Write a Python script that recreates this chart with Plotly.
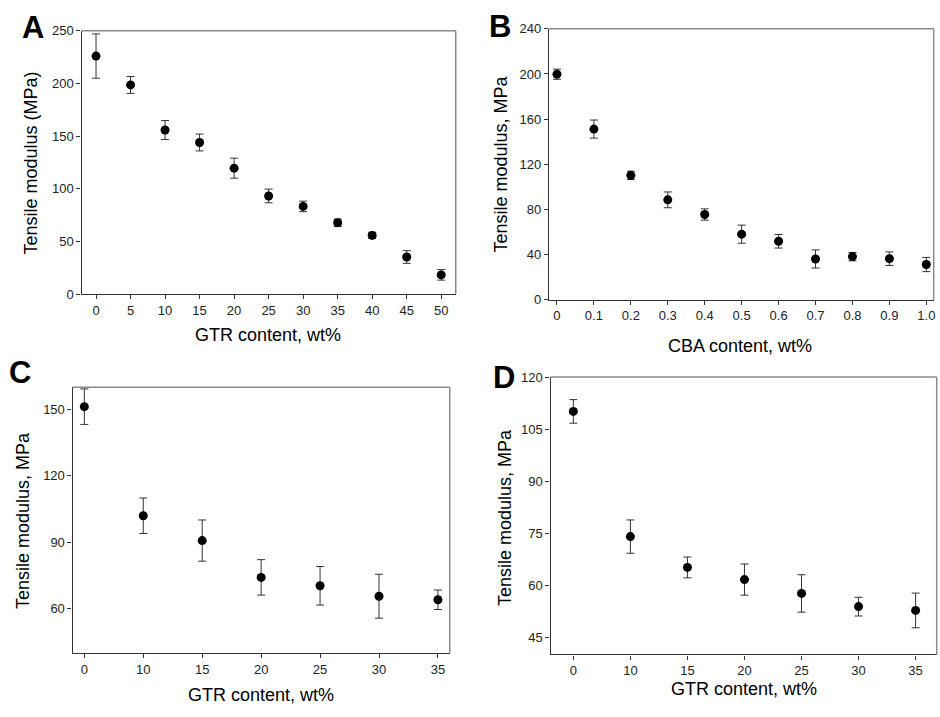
import plotly.graph_objects as go

# Panel A: GTR content vs tensile modulus
a_x = [0, 5, 10, 15, 20, 25, 30, 35, 40, 45, 50]
a_y = [226, 198.6, 155.8, 144, 119.6, 93.2, 83.3, 67.8, 55.8, 35.3, 18.3]
a_err = [21, 8, 9, 8, 9.5, 6.5, 5, 3.5, 3, 6, 5]

# Panel B: CBA content
b_x = [0, 0.1, 0.2, 0.3, 0.4, 0.5, 0.6, 0.7, 0.8, 0.9, 1.0]
b_y = [199.8, 151.2, 110.2, 88.5, 75.5, 58.1, 51.8, 36.1, 38.2, 36.4, 31.2]
b_err = [4.5, 8, 3.7, 7, 5, 8, 6, 8, 3.7, 6, 6.3]
b_ticktext = ["0", "0.1", "0.2", "0.3", "0.4", "0.5", "0.6", "0.7", "0.8", "0.9", "1.0"]

# Panel C: GTR content (categorical)
c_cats = ["0", "10", "15", "20", "25", "30", "35"]
c_y = [151.2, 102, 90.8, 74.2, 70.4, 65.7, 64.1]
c_err = [8, 8, 9.3, 8, 8.7, 9.9, 4.4]

# Panel D: GTR content (categorical)
d_cats = ["0", "10", "15", "20", "25", "30", "35"]
d_y = [110.1, 74.0, 65.1, 61.6, 57.6, 53.8, 52.7]
d_err = [3.4, 4.8, 3, 4.5, 5.4, 2.7, 5]

W, H = 940, 717
FONT = "Liberation Sans, Arial, sans-serif"

fig = go.Figure()

def add_series(x, y, err, xa, ya):
    fig.add_trace(go.Scatter(
        x=x, y=y, mode="markers", xaxis=xa, yaxis=ya,
        marker=dict(color="black", size=9),
        error_y=dict(type="data", array=err, visible=True,
                     color="#333333", thickness=1, width=4),
        showlegend=False, hoverinfo="skip"))

add_series(a_x, a_y, a_err, "x", "y")
add_series(b_x, b_y, b_err, "x2", "y2")
add_series(list(range(len(c_cats))), c_y, c_err, "x3", "y3")
add_series(list(range(len(d_cats))), d_y, d_err, "x4", "y4")

def px_x(p):
    return p / W

def px_y(p):
    return 1 - p / H

axis_common = dict(showline=True, linecolor="#333333", linewidth=1.2,
                   ticks="outside", ticklen=4, tickcolor="#333333",
                   showgrid=False, zeroline=False,
                   tickfont=dict(family=FONT, size=13, color="#222222"))

def dom(a, b):
    return [a, b]

layout = dict(
    width=W, height=H, margin=dict(l=0, r=0, t=0, b=0),
    paper_bgcolor="white", plot_bgcolor="white",
    font=dict(family=FONT),
    xaxis=dict(domain=dom(px_x(81.7), px_x(456.7)), anchor="y",
               range=[-2.1, 52.1], tickvals=a_x, **axis_common),
    yaxis=dict(domain=dom(px_y(293.3), px_y(24.3)), anchor="x",
               range=[0, 250], tickvals=[0, 50, 100, 150, 200, 250], **axis_common),
    xaxis2=dict(domain=dom(px_x(550), px_x(935.7)), anchor="y2",
                range=[-0.022, 1.02], tickvals=b_x, ticktext=b_ticktext, **axis_common),
    yaxis2=dict(domain=dom(px_y(299), px_y(22.3)), anchor="x2",
                range=[0, 240], tickvals=[0, 40, 80, 120, 160, 200, 240], **axis_common),
    xaxis3=dict(domain=dom(px_x(72.7), px_x(450.7)), anchor="y3",
                range=[-0.2, 6.2], tickvals=list(range(len(c_cats))), ticktext=c_cats,
                **axis_common),
    yaxis3=dict(domain=dom(px_y(660), px_y(388.3)), anchor="x3",
                range=[40, 160], tickvals=[60, 90, 120, 150], **axis_common),
    xaxis4=dict(domain=dom(px_x(551.7), px_x(938.7)), anchor="y4",
                range=[-0.4, 6.37], tickvals=list(range(len(d_cats))), ticktext=d_cats,
                **axis_common),
    yaxis4=dict(domain=dom(px_y(661.3), px_y(378)), anchor="x4",
                range=[40, 120], tickvals=[45, 60, 75, 90, 105, 120], **axis_common),
)
fig.update_layout(**layout)

# light grey top/right frame lines
shapes = []
for xr, yr in [("x", "y"), ("x2", "y2"), ("x3", "y3"), ("x4", "y4")]:
    shapes.append(dict(type="line", xref=f"{xr} domain", yref=f"{yr} domain",
                       x0=0, x1=1, y0=1, y1=1, line=dict(color="#8a8a8a", width=1.5)))
    shapes.append(dict(type="line", xref=f"{xr} domain", yref=f"{yr} domain",
                       x0=1, x1=1, y0=0, y1=1, line=dict(color="#8a8a8a", width=1.5)))
fig.update_layout(shapes=shapes)

ann = []
def text(x, y, s, size, angle=0, bold=False):
    ann.append(dict(x=px_x(x), y=px_y(y), xref="paper", yref="paper",
                    text=f"<b>{s}</b>" if bold else s, showarrow=False,
                    textangle=angle, xanchor="center", yanchor="middle",
                    font=dict(family=FONT, size=size, color="black")))

# panel letters
text(33, 21, "A", 31, bold=True)
text(501, 20, "B", 31, bold=True)
text(20, 373, "C", 31, bold=True)
text(505, 378, "D", 31, bold=True)

# x titles
text(269, 335, "GTR content, wt%", 18)
text(742, 346, "CBA content, wt%", 18)
text(262, 703, "GTR content, wt%", 18)
text(746, 697, "GTR content, wt%", 18)

# y titles
text(31, 159, "Tensile modulus (MPa)", 18, angle=-90)
text(502, 160, "Tensile modulus, MPa", 18, angle=-90)
text(23, 524, "Tensile modulus, MPa", 18, angle=-90)
text(506, 521, "Tensile modulus, MPa", 18, angle=-90)

fig.update_layout(annotations=ann)

fig.write_html("out.html")
